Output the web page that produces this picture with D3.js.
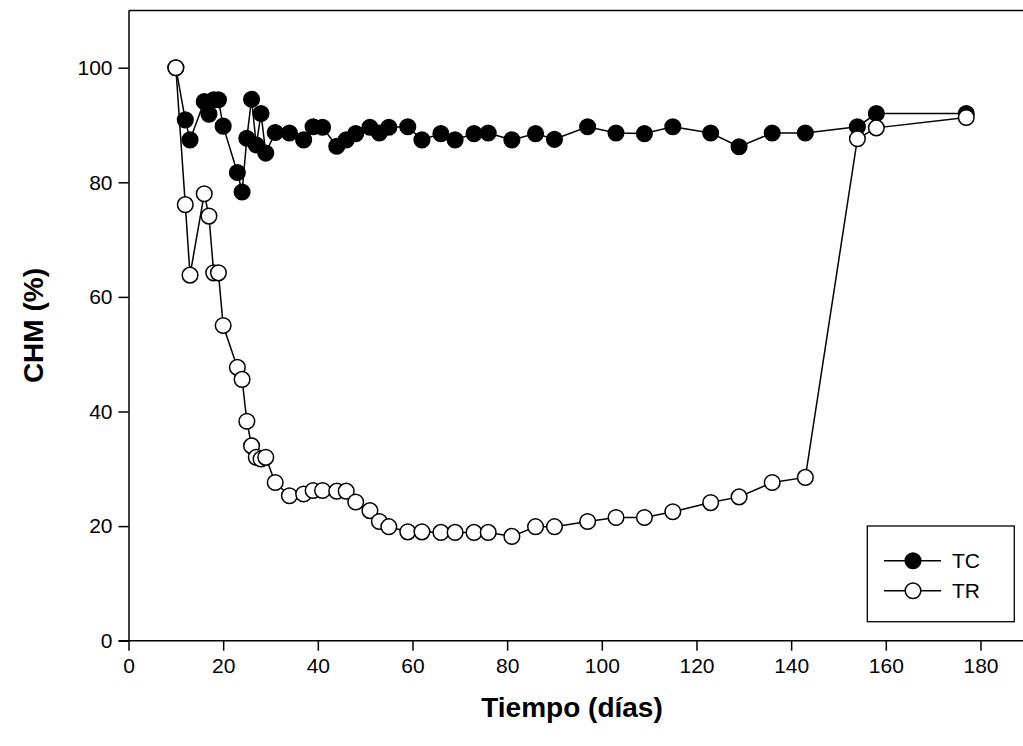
<!DOCTYPE html>
<html>
<head>
<meta charset="utf-8">
<script src="https://cdn.jsdelivr.net/npm/d3@7"></script>
<style>
  html, body { margin: 0; padding: 0; background: #fff; }
  svg { display: block; }
  text { font-family: "Liberation Sans", Arial, sans-serif; fill: #000; }
</style>
</head>
<body>
<svg id="chart" width="1023" height="746"></svg>
<script>
// ---- data ----
const daysTC = [10,12,13,16,17,18,19,20,23,24,25,26,27,28,29,31,34,37,39,41,44,46,48,51,53,55,59,62,66,69,73,76,81,86,90,97,103,109,115,123,129,136,143,154,158,177];
const valuesTC = [100,90.9,87.4,94.1,91.9,94.4,94.4,89.8,81.7,78.3,87.7,94.5,86.5,92.0,85.1,88.7,88.6,87.4,89.7,89.6,86.3,87.4,88.5,89.6,88.6,89.6,89.7,87.4,88.5,87.4,88.5,88.6,87.4,88.5,87.5,89.7,88.6,88.5,89.7,88.6,86.2,88.6,88.6,89.7,92.0,92.0];
const daysTR = [10,12,13,16,17,18,19,20,23,24,25,26,27,28,29,31,34,37,39,41,44,46,48,51,53,55,59,62,66,69,73,76,81,86,90,97,103,109,115,123,129,136,143,154,158,177];
const valuesTR = [100,76.1,63.8,78.0,74.1,64.2,64.2,55.0,47.7,45.6,38.3,34.0,32.0,31.7,32.0,27.6,25.3,25.6,26.2,26.2,26.1,26.1,24.2,22.7,20.8,19.9,19.0,19.0,18.9,18.9,18.9,18.9,18.2,19.9,19.9,20.8,21.5,21.5,22.5,24.1,25.1,27.6,28.5,87.6,89.5,91.3];
const xTicks = [0,20,40,60,80,100,120,140,160,180];
const yTicks = [0,20,40,60,80,100];
const seriesNames = ["TC","TR"];
const xLabel = "Tiempo (días)";
const yLabel = "CHM (%)";

// ---- layout ----
const svg = d3.select("#chart");
const x = d3.scaleLinear().domain([0, 190]).range([128.5, 1027.8]);
const y = d3.scaleLinear().domain([0, 110]).range([640.7, 10.4]);

// frame (top and right)
svg.append("line").attr("x1", x(0)).attr("x2", x(190)).attr("y1", y(110)).attr("y2", y(110))
  .attr("stroke", "#000").attr("stroke-width", 1.5);
svg.append("line").attr("x1", x(190)).attr("x2", x(190)).attr("y1", y(110)).attr("y2", y(0))
  .attr("stroke", "#000").attr("stroke-width", 1.5);

// axes
const xAxis = d3.axisBottom(x).tickValues(xTicks).tickSize(10).tickPadding(7).tickSizeOuter(0);
const yAxis = d3.axisLeft(y).tickValues(yTicks).tickSize(10).tickPadding(6).tickSizeOuter(0);

const gx = svg.append("g").attr("transform", `translate(0,${y(0)})`).call(xAxis);
const gy = svg.append("g").attr("transform", `translate(${x(0)},0)`).call(yAxis);
[gx, gy].forEach(g => {
  g.select(".domain").attr("stroke", "#000").attr("stroke-width", 1.5);
  g.selectAll(".tick line").attr("stroke", "#000").attr("stroke-width", 1.5);
  g.selectAll(".tick text").attr("font-size", 21).attr("font-family", "Liberation Sans, Arial, sans-serif").attr("fill", "#000");
});
gx.select(".domain").attr("d", `M${x(0) - 10},0H${x(190)}`);

// axis titles
svg.append("text").attr("x", 572).attr("y", 717).attr("text-anchor", "middle")
  .attr("font-size", 28).attr("font-weight", "bold").text(xLabel);
svg.append("text").attr("transform", `translate(43,${(y(0) + y(110)) / 2}) rotate(-90)`).attr("text-anchor", "middle")
  .attr("font-size", 28).attr("font-weight", "bold").text(yLabel);

// series
const line = d3.line().x(d => x(d[0])).y(d => y(d[1]));
const tc = daysTC.map((d, i) => [d, valuesTC[i]]);
const tr = daysTR.map((d, i) => [d, valuesTR[i]]);

function drawSeries(data, fill) {
  svg.append("path").datum(data).attr("d", line).attr("fill", "none")
    .attr("stroke", "#000").attr("stroke-width", 1.5);
  svg.append("g").selectAll("circle").data(data).join("circle")
    .attr("cx", d => x(d[0])).attr("cy", d => y(d[1])).attr("r", 7.8)
    .attr("fill", fill).attr("stroke", "#000").attr("stroke-width", 1.5);
}
drawSeries(tc, "#000");
drawSeries(tr, "#fff");

// legend
const lg = svg.append("g");
lg.append("rect").attr("x", 867.3).attr("y", 526).attr("width", 147).attr("height", 95.7)
  .attr("fill", "#fff").attr("stroke", "#000").attr("stroke-width", 1.3);
const legendFills = ["#000", "#fff"];
seriesNames.forEach((name, i) => {
  const ly = 560.7 + i * 30;
  lg.append("line").attr("x1", 884).attr("x2", 941).attr("y1", ly).attr("y2", ly)
    .attr("stroke", "#000").attr("stroke-width", 1.5);
  lg.append("circle").attr("cx", 913).attr("cy", ly).attr("r", 7.8)
    .attr("fill", legendFills[i]).attr("stroke", "#000").attr("stroke-width", 1.5);
  lg.append("text").attr("x", 952).attr("y", ly + 7.5).attr("font-size", 21).text(name);
});
</script>
</body>
</html>
